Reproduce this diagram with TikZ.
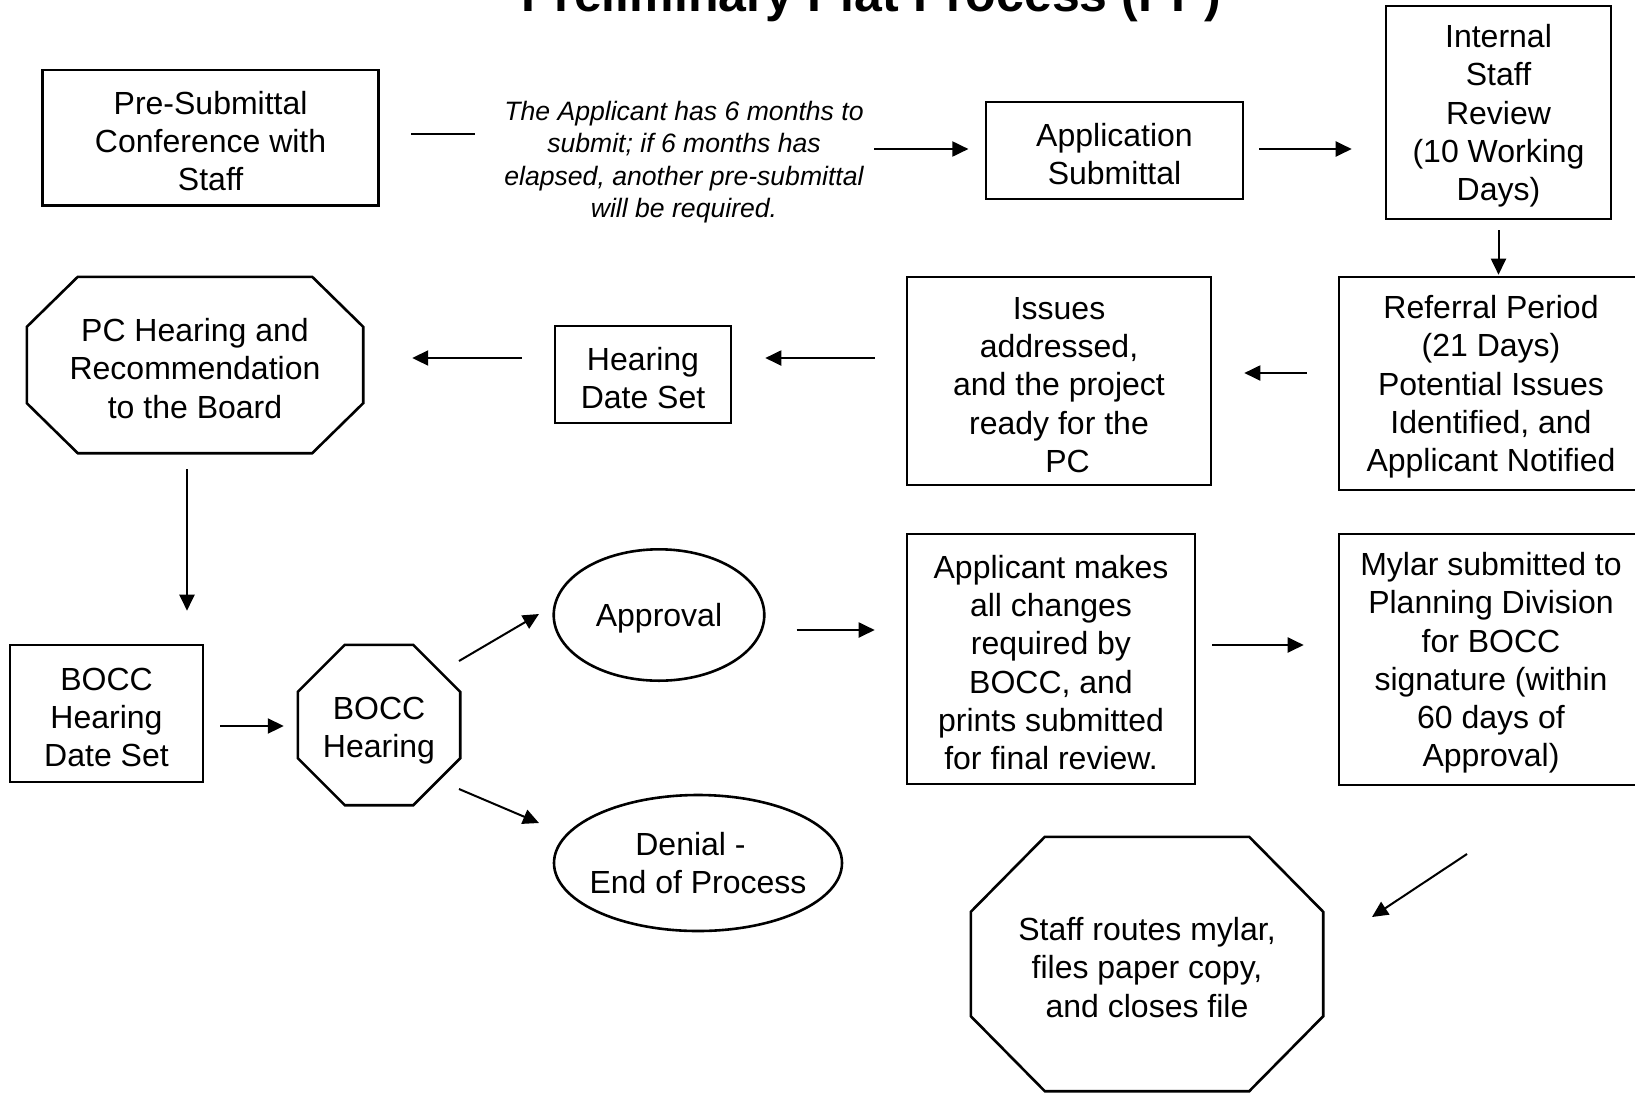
\documentclass[tikz,border=0pt]{standalone}
\usepackage{fontspec}
\setmainfont{Liberation Sans}
\usetikzlibrary{arrows.meta,shapes.geometric}
\newcommand{\octo}[3]{%
  \draw[outline] ([xshift=#2]#1.north west) -- ([xshift=-#2]#1.north east) -- ([yshift=-#3]#1.north east) -- ([yshift=#3]#1.south east) -- ([xshift=-#2]#1.south east) -- ([xshift=#2]#1.south west) -- ([yshift=#3]#1.south west) -- ([yshift=-#3]#1.north west) -- cycle;}
\newcommand{\tup}{\rule{0pt}{30pt}}
\tikzset{
  txt/.style={font=\fontsize{32}{38.3}\selectfont, align=center, inner sep=0pt},
  boxnode/.style={txt, draw, line width=2.6pt, rectangle},
  octnode/.style={txt, rectangle},
  outline/.style={line width=2.6pt, line join=miter},
  ovalnode/.style={txt, draw, line width=2.6pt, ellipse, inner xsep=-15pt},
  arr/.style={line width=2pt, -{Triangle[length=16pt,width=15pt]}},
  plain/.style={line width=2pt},
}
\begin{document}
\begin{tikzpicture}[x=1pt,y=-1pt]
\useasboundingbox (0,0) rectangle (1635,1093);
\clip (0,0) rectangle (1635,1093);
\fill[white] (0,0) rectangle (1635,1093);

% title
\node[anchor=base, inner sep=0pt, font=\fontsize{50}{60}\selectfont\bfseries] (title) at (871.5,11.5) {Preliminary Plat Process (PP)};

% nodes
\node[boxnode, minimum width=335.7pt, minimum height=135.5pt] (pre) at (210.6,137.6) {\tup Pre-Submittal\\Conference with\\Staff};
\node[inner sep=0pt, align=center, font=\fontsize{26.6}{32.3}\selectfont\itshape] (note) at (684,162) {The Applicant has 6 months to\\submit; if 6 months has\\elapsed, another pre-submittal\\will be required.};
\node[boxnode, minimum width=257pt, minimum height=97pt] (app) at (1114.5,150.5) {\tup Application\\Submittal};
\node[boxnode, minimum width=225pt, minimum height=213pt] (isr) at (1498.5,112.5) {\tup Internal\\Staff\\Review\\(10 Working\\Days)};
\node[boxnode, minimum width=304pt, minimum height=213pt] (ref) at (1491,383.5) {\tup Referral Period\\(21 Days)\\Potential Issues\\Identified, and\\Applicant Notified};
\node[boxnode, minimum width=304pt, minimum height=208pt] (iss) at (1059,381) {\tup Issues\\addressed,\\and the project\\ready for the\\\hspace*{17pt}PC};
\node[boxnode, minimum width=176pt, minimum height=97pt] (hds) at (643,374.5) {\tup Hearing\\Date Set};
\node[octnode, minimum width=336pt, minimum height=176pt] (pch) at (195,365) {\tup PC Hearing and\\Recommendation\\to the Board};
\octo{pch}{51pt}{50pt}
\node[boxnode, minimum width=193pt, minimum height=137pt] (bds) at (106.5,713.5) {\tup BOCC\\Hearing\\Date Set};
\node[octnode, minimum width=162pt, minimum height=160pt] (bh) at (379,725) {\rule{0pt}{33pt}BOCC\\Hearing};
\octo{bh}{47pt}{47pt}
\node[ovalnode, minimum width=210.6pt, minimum height=131.4pt] (appr) at (659,615) {\tup Approval};
\node[ovalnode, minimum width=288pt, minimum height=136pt] (den) at (698,863) {Denial -\hspace*{15pt}\\End of Process};
\node[boxnode, minimum width=288pt, minimum height=250pt] (apc) at (1051,659) {\tup Applicant makes\\all changes\\required by\\BOCC, and\\prints submitted\\for final review.};
\node[boxnode, minimum width=304pt, minimum height=251pt] (myl) at (1491,659.5) {\tup Mylar submitted to\\Planning Division\\for BOCC\\signature (within\\60 days of\\Approval)};
\node[octnode, minimum width=352pt, minimum height=254pt] (srt) at (1147,964) {\tup Staff routes mylar,\\files paper copy,\\and closes file};
\octo{srt}{74pt}{75pt}

% connectors
\draw[plain, shorten <=31.5pt, shorten >=29.5pt] ([yshift=4.1pt]pre.east) -- ([yshift=28.5pt]note.west);
\draw[arr, shorten <=10.3pt, shorten >=16.3pt] ([yshift=13pt]note.east) -- ([yshift=1.5pt]app.west);
\draw[arr, shorten <=15pt, shorten >=33pt] ([yshift=1.5pt]app.east) -- ([yshift=-36.5pt]isr.west);
\draw[arr, shorten <=10pt, shorten >=1pt] (isr.south) -- (isr.south |- ref.north);
\draw[arr, shorten <=31pt, shorten >=32pt] ([yshift=10.5pt]ref.west) -- ([yshift=8pt]iss.east);
\draw[arr, shorten <=31pt, shorten >=33pt] ([yshift=23pt]iss.west) -- ([yshift=16.5pt]hds.east);
\draw[arr, shorten <=32pt, shorten >=49pt] ([yshift=16.5pt]hds.west) -- ([yshift=7pt]pch.east);
\draw[arr, shorten <=16pt, shorten >=33pt] ([xshift=-8pt]pch.south) -- ([xshift=80.5pt]bds.north);
\draw[arr, shorten <=16pt, shorten >=14pt] ([yshift=-12.5pt]bds.east) -- ([yshift=-1pt]bh.west);
\draw[arr] ([xshift=80pt,yshift=64pt]bh.center) -- ([xshift=-120pt,yshift=1pt]appr.center);
\draw[arr] ([xshift=80pt,yshift=-64pt]bh.center) -- ([xshift=-159pt,yshift=40pt]den.center);
\draw[arr, shorten <=31pt, shorten >=31pt] ([yshift=-15pt]appr.east) -- ([yshift=29pt]apc.west);
\draw[arr, shorten <=16pt, shorten >=34pt] ([yshift=14pt]apc.east) -- ([yshift=14.5pt]myl.west);
\draw[arr] ([xshift=-24pt,yshift=-194.5pt]myl.center) -- ([xshift=225pt,yshift=47pt]srt.center);
\end{tikzpicture}
\end{document}
